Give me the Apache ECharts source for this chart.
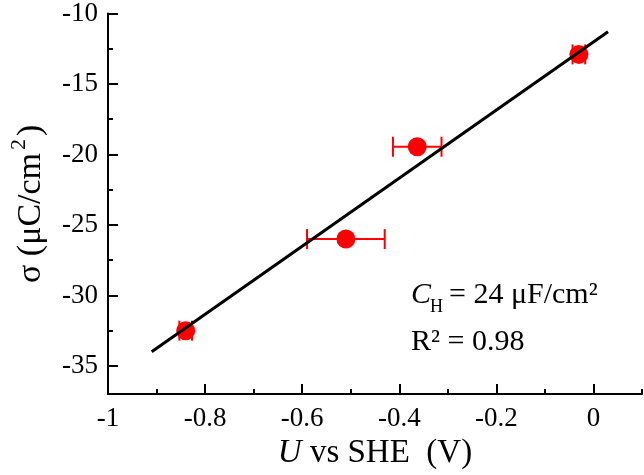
<!DOCTYPE html>
<html>
<head>
<meta charset="utf-8">
<script src="https://cdn.jsdelivr.net/npm/echarts@6/dist/echarts.min.js"></script>
<style>html,body{margin:0;padding:0;background:#fff;}#c{width:644px;height:475px;}</style>
</head>
<body>
<div id="c"></div>
<script>
// ---- data ----
var xVals = [-0.84, -0.51, -0.363, -0.03];
var yVals = [-32.5, -26.0, -19.45, -12.9];
var xErr  = [0.013, 0.08, 0.05, 0.013];
var fitX  = [-0.91, 0.03];
var fitY  = [-34.0, -11.3];
var xMajorTicks = [-1, -0.8, -0.6, -0.4, -0.2, 0];
var xMinorTicks = [-0.9, -0.7, -0.5, -0.3, -0.1, 0.1];
var xTickLabels = ['-1', '-0.8', '-0.6', '-0.4', '-0.2', '0'];
var yMajorTicks = [-35, -30, -25, -20, -15, -10];
var yMinorTicks = [-32.5, -27.5, -22.5, -17.5, -12.5];
var yTickLabels = ['-35', '-30', '-25', '-20', '-15', '-10'];

var FONT = 'Liberation Serif';
var pts = xVals.map(function (x, i) { return [x, yVals[i]]; });
var errData = xVals.map(function (x, i) { return [x, yVals[i], xErr[i]]; });
var fitData = fitX.map(function (x, i) { return [x, fitY[i]]; });

function lab(ticks, labels) {
  return function (v) {
    for (var i = 0; i < ticks.length; i++) if (Math.abs(ticks[i] - v) < 1e-6) return labels[i];
    return '';
  };
}

var chart = echarts.init(document.getElementById('c'), null, {renderer: 'canvas'});
var axisCommon = {
  type: 'value',
  splitLine: {show: false},
  axisLine: {show: true, onZero: false, lineStyle: {color: '#000', width: 2}}
};
chart.setOption({
  animation: false,
  backgroundColor: '#fff',
  grid: {left: 108, right: 2, top: 11, bottom: 73, containLabel: false},
  xAxis: [
    Object.assign({}, axisCommon, {
      min: -1, max: 0.1, position: 'bottom',
      axisTick: {show: true, inside: true, length: 10, lineStyle: {color: '#000', width: 2}, customValues: xMajorTicks},
      axisLabel: {show: true, margin: 11, color: '#000', fontFamily: FONT, fontSize: 27, customValues: xMajorTicks, formatter: lab(xMajorTicks, xTickLabels)},
      name: '{i|U}{n| vs SHE  (V)}', nameLocation: 'middle', nameGap: 38,
      nameTextStyle: {rich: {
        i: {fontFamily: FONT, fontSize: 33, fontStyle: 'italic', color: '#000'},
        n: {fontFamily: FONT, fontSize: 33, color: '#000'}
      }}
    }),
    Object.assign({}, axisCommon, {
      min: -1, max: 0.1, position: 'bottom',
      axisLine: {show: false, onZero: false},
      axisTick: {show: true, inside: true, length: 5, lineStyle: {color: '#000', width: 2}, customValues: xMinorTicks},
      axisLabel: {show: false}
    })
  ],
  yAxis: [
    Object.assign({}, axisCommon, {
      min: -37, max: -10, position: 'left',
      axisTick: {show: true, inside: true, length: 10, lineStyle: {color: '#000', width: 2}, customValues: yMajorTicks},
      axisLabel: {show: true, margin: 10, color: '#000', fontFamily: FONT, fontSize: 27, customValues: yMajorTicks, formatter: lab(yMajorTicks, yTickLabels)},
      name: '{n|σ (μC/cm}{s|2}{n|)}', nameLocation: 'middle', nameGap: 60,
      nameTextStyle: {rich: {
        n: {fontFamily: FONT, fontSize: 34, color: '#000', lineHeight: 40, verticalAlign: 'bottom'},
        s: {fontFamily: FONT, fontSize: 22, color: '#000', lineHeight: 40, verticalAlign: 'top', padding: [0, 3, 0, 3]}
      }}
    }),
    Object.assign({}, axisCommon, {
      min: -37, max: -10, position: 'left',
      axisLine: {show: false, onZero: false},
      axisTick: {show: true, inside: true, length: 5, lineStyle: {color: '#000', width: 2}, customValues: yMinorTicks},
      axisLabel: {show: false}
    })
  ],
  series: [
    {
      type: 'custom', xAxisIndex: 0, yAxisIndex: 0, z: 1,
      data: errData,
      renderItem: function (params, api) {
        var x = api.value(0), y = api.value(1), e = api.value(2);
        var a = api.coord([x - e, y]), b = api.coord([x + e, y]);
        var st = {stroke: '#ff0000', lineWidth: 2};
        return {type: 'group', children: [
          {type: 'line', shape: {x1: a[0], y1: a[1], x2: b[0], y2: b[1]}, style: st},
          {type: 'line', shape: {x1: a[0], y1: a[1] - 10, x2: a[0], y2: a[1] + 10}, style: st},
          {type: 'line', shape: {x1: b[0], y1: b[1] - 10, x2: b[0], y2: b[1] + 10}, style: st}
        ]};
      }
    },
    {
      type: 'scatter', xAxisIndex: 0, yAxisIndex: 0, z: 2,
      data: pts, symbol: 'circle', symbolSize: 19,
      itemStyle: {color: '#ff0000', opacity: 1}
    },
    {
      type: 'line', xAxisIndex: 0, yAxisIndex: 0, z: 3,
      data: fitData, showSymbol: false, symbol: 'none',
      lineStyle: {color: '#000', width: 3}
    }
  ],
  graphic: [
    {type: 'text', left: 411, top: 280, style: {text: 'C', font: 'italic 30px "' + FONT + '"', fill: '#000'}},
    {type: 'text', left: 430, top: 298, style: {text: 'H', font: '18px "' + FONT + '"', fill: '#000'}},
    {type: 'text', left: 449, top: 280, style: {text: '= 24 μF/cm²', font: '30px "' + FONT + '"', fill: '#000'}},
    {type: 'text', left: 411, top: 327, style: {text: 'R² = 0.98', font: '30px "' + FONT + '"', fill: '#000'}}
  ]
});
</script>
</body>
</html>
